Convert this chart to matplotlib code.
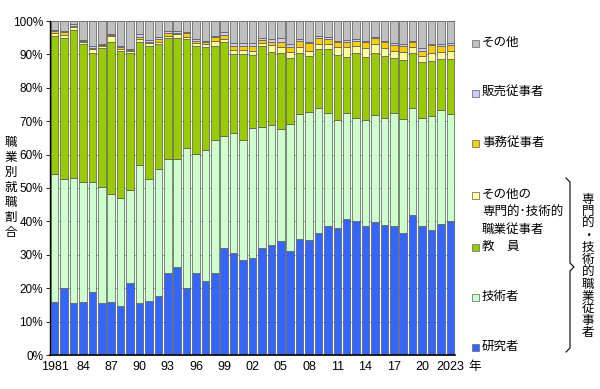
import numpy as np
import matplotlib.pyplot as plt
from matplotlib.patches import Rectangle

plt.rcParams['font.family'] = ['Liberation Sans', 'Noto Sans CJK JP', 'DejaVu Sans']

years = list(range(1981, 2024))
tick_labels = ['1981', '84', '87', '90', '93', '96', '99', '02', '05', '08',
               '11', '14', '17', '20', '2023']

kenkyusha = [16.0, 20.1, 15.7, 15.8, 18.8, 15.6, 15.8, 14.8, 21.5, 15.5, 16.2, 17.8, 24.6, 26.2,
             20.0, 24.5, 22.3, 24.7, 32.1, 30.6, 28.5, 29.0, 32.1, 33.0, 34.1, 31.1, 34.8, 34.3,
             36.5, 38.5, 37.9, 40.8, 40.2, 38.6, 39.7, 38.9, 38.5, 36.6, 41.8, 38.5, 37.5, 39.2, 40.2]
gijutsusha = [38.3, 32.5, 37.4, 36.0, 33.0, 34.7, 32.4, 32.3, 27.8, 41.3, 36.6, 37.8, 34.0, 32.6,
              42.1, 35.8, 39.0, 39.6, 33.5, 36.0, 35.8, 39.0, 36.2, 35.8, 33.5, 38.0, 37.3, 38.5,
              37.5, 34.1, 32.4, 31.7, 30.9, 31.9, 32.2, 32.2, 34.0, 34.2, 32.2, 32.6, 34.0, 34.1, 32.1]
kyoin = [41.3, 42.2, 44.2, 41.4, 38.6, 41.6, 45.5, 43.8, 41.0, 36.9, 39.7, 37.4, 36.2, 36.1,
         32.5, 32.3, 31.0, 28.2, 28.2, 23.4, 25.7, 21.8, 24.2, 21.8, 22.9, 19.7, 18.2, 16.7,
         17.6, 18.9, 19.5, 16.6, 19.2, 18.6, 18.4, 18.4, 16.5, 17.5, 16.3, 16.5, 16.5, 15.3, 16.2]
sonota_senmon = [0.9, 1.0, 0.8, 0.5, 1.1, 0.6, 1.8, 0.8, 0.6, 0.8, 0.8, 0.8, 0.8, 1.1,
                 0.7, 0.7, 0.7, 1.6, 0.9, 1.3, 1.3, 1.2, 1.0, 2.2, 1.8, 2.0, 2.0, 1.6,
                 1.4, 1.5, 2.3, 3.0, 2.3, 2.7, 2.7, 2.5, 2.1, 2.5, 2.0, 2.0, 2.5, 2.2, 2.6]
jimu = [0.6, 0.8, 0.5, 0.4, 0.5, 0.3, 0.4, 0.4, 0.4, 0.8, 0.5, 0.7, 0.7, 0.5,
        1.0, 0.8, 0.7, 1.0, 1.0, 1.2, 1.2, 1.5, 0.8, 1.0, 1.3, 1.5, 1.7, 2.2,
        1.8, 1.6, 1.5, 1.7, 1.5, 1.8, 1.8, 1.8, 1.7, 1.7, 1.4, 1.5, 2.2, 1.7, 1.7]
hanbai = [0.2, 0.4, 0.5, 0.2, 0.5, 0.4, 0.2, 0.4, 0.3, 0.7, 0.5, 0.6, 0.6, 0.5,
          0.4, 0.4, 0.4, 0.5, 0.9, 0.8, 0.8, 0.8, 0.6, 0.7, 1.3, 0.7, 0.6, 0.5,
          0.8, 0.7, 0.5, 0.5, 0.4, 0.5, 0.5, 0.3, 0.5, 0.5, 0.4, 0.7, 0.4, 0.6, 0.5]
sonota = [2.7, 3.0, 0.9, 5.7, 7.5, 6.8, 3.9, 7.5, 8.4, 4.0, 5.7, 4.9, 3.1, 3.0,
          3.3, 5.5, 5.9, 4.4, 3.4, 6.7, 6.7, 6.7, 5.1, 5.5, 5.1, 7.0, 5.4, 6.2,
          4.4, 4.7, 5.9, 5.7, 5.5, 5.9, 4.7, 5.9, 6.7, 7.0, 5.9, 8.2, 6.9, 6.9, 6.7]

series = [kenkyusha, gijutsusha, kyoin, sonota_senmon, jimu, hanbai, sonota]
colors = ['#3366FF', '#CCFFCC', '#99CC00', '#FFFF99', '#FFCC00', '#CCCCFF', '#C0C0C0']

W, H = 600, 389
fig = plt.figure(figsize=(6, 3.89), dpi=100)
ax = fig.add_axes([50 / W, 34 / H, 405 / W, 334 / H])

x = np.arange(len(years))
bottom = np.zeros(len(years))
for vals, c in zip(series, colors):
    ax.bar(x, vals, bottom=bottom, width=0.8, color=c, edgecolor='#555555',
           linewidth=0.5, zorder=2)
    bottom += np.array(vals)

ax.set_xlim(-0.5, len(years) - 0.5)
ax.set_ylim(0, 100)
ax.set_yticks(range(0, 101, 10))
ax.set_yticklabels([f'{v}%' for v in range(0, 101, 10)], fontsize=8.5)
ax.set_xticks(x[::3])
ax.set_xticklabels(tick_labels, fontsize=9)
ax.tick_params(axis='x', length=0, pad=4)
ax.tick_params(axis='y', length=3, width=0.6, pad=2)
ax.yaxis.grid(True, color='#999999', linewidth=0.6, zorder=0)
ax.set_axisbelow(True)
for s in ['top', 'right']:
    ax.spines[s].set_visible(False)
ax.spines['left'].set_linewidth(1.0)
ax.spines['bottom'].set_linewidth(1.2)


def vtext(xpix, ytop, step, s):
    # stack characters one per line
    for i, ch in enumerate(s):
        fig.text(xpix / W, 1 - (ytop + i * step) / H, ch, fontsize=9,
                 ha='center', va='center')


def ptext(xpix, ypix, s, **kw):
    fig.text(xpix / W, 1 - ypix / H, s, fontsize=9, va='center', **kw)


vtext(11, 143, 15, '職業別就職割合')
ptext(475, 367, '年', ha='center')

# legend drawn by hand
legend = [
    ('その他', 43, '#C0C0C0'),
    ('販売従事者', 93, '#CCCCFF'),
    ('事務従事者', 143, '#FFCC00'),
    ('その他の', 195, '#FFFF99'),
    ('教　員', 247, '#99CC00'),
    ('技術者', 297, '#CCFFCC'),
    ('研究者', 347, '#3366FF'),
]
for label, ypix, c in legend:
    fig.patches.append(Rectangle(((475 - 3.5) / W, 1 - (ypix + 3.5) / H), 7 / W, 7 / H,
                                 transform=fig.transFigure, facecolor=c,
                                 edgecolor='#777777', linewidth=0.6))
    ptext(482, ypix, label, ha='left')
ptext(482, 213, '専門的･技術的', ha='left')
ptext(482, 230, '職業従事者', ha='left')

# bracket
yt, ym, yb = 178, 267, 352
bx = 566
xs = [bx, bx + 4, bx + 4, bx + 8, bx + 4, bx + 4, bx]
ys = [yt, yt + 4, ym - 4, ym, ym + 4, yb - 4, yb]
fig.lines.append(plt.Line2D([v / W for v in xs], [1 - v / H for v in ys],
                            transform=fig.transFigure, color='black', linewidth=0.8))
vtext(588, 200, 12.1, '専門的・技術的職業従事者')

fig.savefig('out.png', dpi=100)
